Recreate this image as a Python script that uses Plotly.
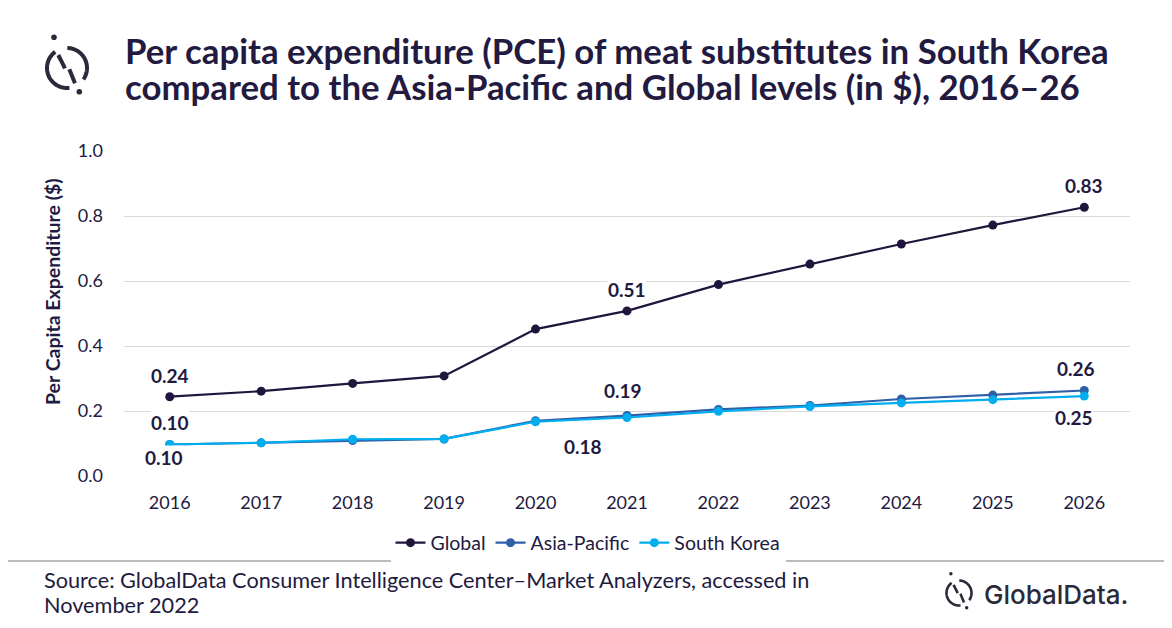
import math
import plotly.graph_objects as go

# data
years = ["2016", "2017", "2018", "2019", "2020", "2021", "2022", "2023", "2024", "2025", "2026"]
global_pce = [0.244, 0.261, 0.285, 0.308, 0.452, 0.508, 0.589, 0.652, 0.714, 0.772, 0.827]
apac_pce = [0.097, 0.102, 0.109, 0.114, 0.170, 0.186, 0.205, 0.217, 0.237, 0.249, 0.263]
korea_pce = [0.097, 0.102, 0.113, 0.114, 0.167, 0.180, 0.199, 0.214, 0.225, 0.235, 0.246]
labelled_years = [0, 5, 10]  # indices that carry a data label

TEXT = "#221a40"
LOGO = "#2b2a3a"
FONT = "Lato"

# the page body adds an 8px margin, so the figure is shifted by OFF on screen
OFF = 8
W, H = 1172 - OFF, 628 - OFF
PLOT_X0, PLOT_X1 = 124, 1130      # screen pixels
PLOT_Y0, PLOT_Y1 = 151, 476
L, R = PLOT_X0 - OFF, W - (PLOT_X1 - OFF)
T, B = PLOT_Y0 - OFF, H - (PLOT_Y1 - OFF)


def px(x):
    # screen pixel -> paper x
    return (x - PLOT_X0) / (PLOT_X1 - PLOT_X0)


def py(y):
    # screen pixel -> paper y
    return (PLOT_Y1 - y) / (PLOT_Y1 - PLOT_Y0)


def arc_path(cx, cy, r, a0, a1, n=40):
    pts = []
    for i in range(n + 1):
        a = math.radians(a0 + (a1 - a0) * i / n)
        pts.append((px(cx + r * math.cos(a)), py(cy - r * math.sin(a))))
    return "M" + " L".join(f"{x:.5f},{y:.5f}" for x, y in pts)


def logo_shapes(cx, cy, r, w, col):
    s = r / 20.0
    out = []
    for a0, a1 in [(126, 277), (89, -35)]:
        out.append(dict(type="path", xref="paper", yref="paper", path=arc_path(cx, cy, r, a0, a1),
                        line=dict(color=col, width=w)))
    for (x0, y0, x1, y1) in [(-8.7, -13, -2, 0.3), (2.3, 1.3, 8, 15.3)]:
        out.append(dict(type="line", xref="paper", yref="paper",
                        x0=px(cx + x0 * s), y0=py(cy + y0 * s), x1=px(cx + x1 * s), y1=py(cy + y1 * s),
                        line=dict(color=col, width=w)))
    for (dx, dy) in [(-13, -30.7), (12.3, 23.7)]:
        d = 2.8 * s
        out.append(dict(type="circle", xref="paper", yref="paper",
                        x0=px(cx + dx * s - d), x1=px(cx + dx * s + d),
                        y0=py(cy + dy * s - d), y1=py(cy + dy * s + d),
                        fillcolor=col, line=dict(width=0)))
    return out


series = [
    ("Global", global_pce, "#20153c"),
    ("Asia-Pacific", apac_pce, "#2f5fa8"),
    ("South Korea", korea_pce, "#00aeef"),
]

fig = go.Figure()
for name, vals, col in series:
    fig.add_trace(go.Scatter(
        x=years, y=vals, name=name, mode="lines+markers",
        line=dict(color=col, width=2.2),
        marker=dict(color=col, size=9),
    ))

# data labels (pixel offsets per series/label)
label_shift = {
    "Global": [(0, 21), (0, 21), (0, 22)],
    "Asia-Pacific": [(0, 22), (-4, 25), (-8, 22)],
    "South Korea": [(-6, -13), (-44, -29), (-10, -21)],
}
annotations = []
for name, vals, col in series:
    for k, i in enumerate(labelled_years):
        dx, dy = label_shift[name][k]
        annotations.append(dict(
            x=i, y=vals[i], xref="x", yref="y", text=f"{vals[i]:.2f}",
            xanchor="center", yanchor="middle",
            showarrow=False, xshift=dx, yshift=dy, bgcolor="white", borderpad=0,
            font=dict(family=FONT, size=19, color=TEXT, weight="bold"),
        ))

title_lines = ["Per capita expenditure (PCE) of meat substitutes in South Korea",
               "compared to the Asia-Pacific and Global levels (in $), 2016\u201326"]
for line, yc in zip(title_lines, [50, 86]):
    annotations.append(dict(x=px(123), y=py(yc), xref="paper", yref="paper", xanchor="left",
                            yanchor="middle", showarrow=False, text=line,
                            font=dict(family=FONT, size=34.8, color=TEXT, weight="bold")))

source_lines = ["Source: GlobalData Consumer Intelligence Center\u2013Market Analyzers, accessed in",
                "November 2022"]
for line, yc in zip(source_lines, [580, 605]):
    annotations.append(dict(x=px(42), y=py(yc), xref="paper", yref="paper", xanchor="left",
                            yanchor="middle", showarrow=False, text=line,
                            font=dict(family=FONT, size=21.7, color=TEXT)))

annotations += [
    dict(x=px(52), y=py(292), xref="paper", yref="paper", xanchor="center", yanchor="middle",
         textangle=-90, showarrow=False, text="Per Capita Expenditure ($)",
         font=dict(family=FONT, size=19.5, color=TEXT, weight="bold")),
    dict(x=px(982), y=py(594), xref="paper", yref="paper", xanchor="left", yanchor="middle",
         showarrow=False, text="GlobalData.",
         font=dict(family="Inter", size=26, color=LOGO, weight=500)),
]

shapes = [dict(type="line", xref="paper", yref="paper", x0=px(0), x1=px(1172), y0=py(561), y1=py(561),
               line=dict(color="#a6a6a6", width=1.5))]
shapes += logo_shapes(67, 68, 20, 4, LOGO)
shapes += logo_shapes(959, 593, 12.5, 2.6, LOGO)

fig.update_layout(
    width=W, height=H,
    margin=dict(l=L, r=R, t=T, b=B),
    paper_bgcolor="white", plot_bgcolor="white",
    font=dict(family=FONT, color=TEXT, size=18),
    xaxis=dict(type="category", range=[-0.5, len(years) - 0.5], showgrid=False, showline=False,
               zeroline=False, ticks="", tickfont=dict(size=18, color=TEXT), ticklabelstandoff=14),
    yaxis=dict(range=[0, 1.0], dtick=0.2, tickformat=".1f", showgrid=True,
               gridcolor="#d9d9d9", gridwidth=1, zeroline=False, showline=False,
               tickfont=dict(size=18, color=TEXT), ticklabelstandoff=20),
    legend=dict(orientation="h", x=px(588), xanchor="center", y=py(543), yanchor="middle",
                font=dict(size=19.5, color=TEXT), itemwidth=30, tracegroupgap=0),
    annotations=annotations,
    shapes=shapes,
    showlegend=True,
)

fig.write_html("out.html")
